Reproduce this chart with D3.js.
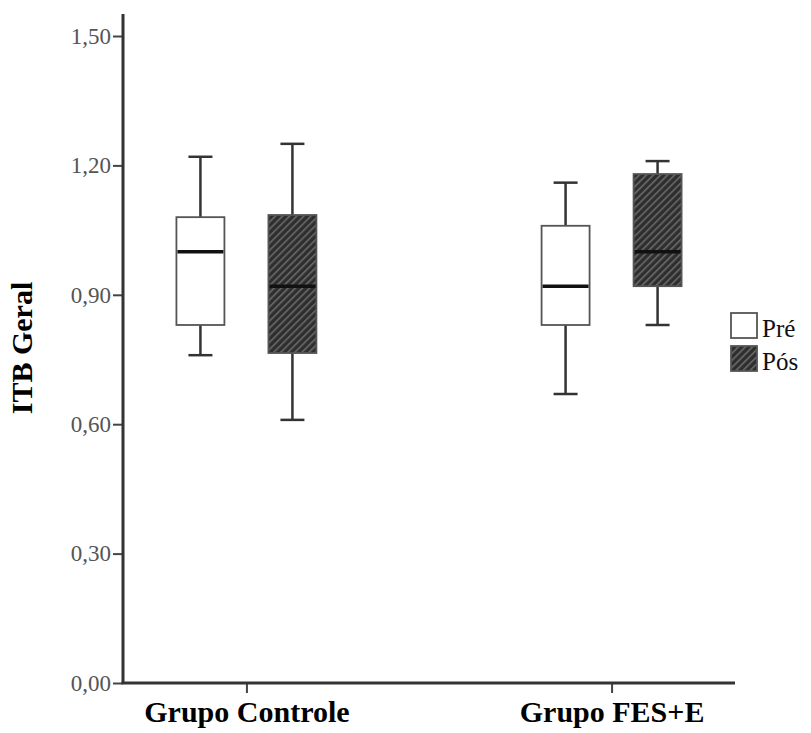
<!DOCTYPE html>
<html>
<head>
<meta charset="utf-8">
<script src="https://cdn.jsdelivr.net/npm/d3@7"></script>
<style>
  body { margin: 0; background: #fff; }
  svg { display: block; }
</style>
</head>
<body>
<div id="chart"></div>
<script>
// Données (ITB Geral)
const groups = ['Grupo Controle', 'Grupo FES+E'];
const phases = ['Pré', 'Pós'];
// min, q1, mediana, q3, max
const controlePre = [0.76, 0.83, 1.00, 1.08, 1.22];
const controlePos = [0.61, 0.765, 0.92, 1.085, 1.25];
const fesPre = [0.67, 0.83, 0.92, 1.06, 1.16];
const fesPos = [0.83, 0.92, 1.00, 1.18, 1.21];
const yTicks = [0, 0.3, 0.6, 0.9, 1.2, 1.5];

const boxes = [
    { group: groups[0], phase: phases[0], v: controlePre },
    { group: groups[0], phase: phases[1], v: controlePos },
    { group: groups[1], phase: phases[0], v: fesPre },
    { group: groups[1], phase: phases[1], v: fesPos }
];

const width = 811;
const height = 733;
const margin = { top: 36, right: 76, bottom: 50, left: 123 };

const svg = d3.select('#chart')
    .append('svg')
    .attr('width', width)
    .attr('height', height);

// Motif hachuré pour "Pós"
const defs = svg.append('defs');
const pat = defs.append('pattern')
    .attr('id', 'hatch')
    .attr('patternUnits', 'userSpaceOnUse')
    .attr('width', 5)
    .attr('height', 5)
    .attr('patternTransform', 'rotate(45)');
pat.append('rect').attr('width', 5).attr('height', 5).attr('fill', '#2e2e2e');
pat.append('rect').attr('x', 0).attr('width', 1.6).attr('height', 5).attr('fill', '#6a6a6a');

// Échelles
const y = d3.scaleLinear()
    .domain([0, 1.5])
    .range([683, 36]);

const x = d3.scalePoint()
    .domain(groups)
    .range([margin.left, 735])
    .padding(0.338);

const phaseOffset = d3.scalePoint()
    .domain(phases)
    .range([-46, 46]);

const boxW = 48;
const capW = 24;

// Axe Y
const yAxis = d3.axisLeft(y)
    .tickValues(yTicks)
    .tickSize(10)
    .tickSizeOuter(0)
    .tickFormat(d => d3.format('.2f')(d).replace('.', ','));

const gy = svg.append('g')
    .attr('transform', `translate(${margin.left},0)`)
    .call(yAxis);
gy.select('.domain').remove();
gy.selectAll('.tick line').attr('stroke', '#444').attr('stroke-width', 2);
gy.selectAll('.tick text')
    .attr('x', -12)
    .style('font-family', '"Liberation Serif", "Times New Roman", serif')
    .style('font-size', '23px')
    .style('fill', '#555');

svg.append('line')
    .attr('x1', margin.left).attr('x2', margin.left)
    .attr('y1', y(0)).attr('y2', 14)
    .attr('stroke', '#333').attr('stroke-width', 3);

// Axe X
const xAxis = d3.axisBottom(x).tickSize(10).tickSizeOuter(0);
const gx = svg.append('g')
    .attr('transform', `translate(0,${y(0)})`)
    .call(xAxis);
gx.select('.domain').remove();
gx.selectAll('.tick line').attr('stroke', '#444').attr('stroke-width', 2);
gx.selectAll('.tick text')
    .attr('y', 39)
    .attr('dy', 0)
    .style('font-family', '"Liberation Serif", "Times New Roman", serif')
    .style('font-size', '30px')
    .style('font-weight', 'bold')
    .style('fill', '#000');

svg.append('line')
    .attr('x1', margin.left - 1.5).attr('x2', 735)
    .attr('y1', y(0)).attr('y2', y(0))
    .attr('stroke', '#333').attr('stroke-width', 3);

// Titre axe Y
svg.append('text')
    .attr('transform', `translate(32,${348}) rotate(-90)`)
    .attr('text-anchor', 'middle')
    .style('font-family', '"Liberation Serif", "Times New Roman", serif')
    .style('font-size', '30px')
    .style('font-weight', 'bold')
    .text('ITB Geral');

// Boîtes
const bx = svg.selectAll('.box')
    .data(boxes)
    .enter()
    .append('g')
    .attr('class', 'box')
    .attr('transform', d => `translate(${x(d.group) + phaseOffset(d.phase)},0)`);

// moustaches
bx.append('line')
    .attr('x1', 0).attr('x2', 0)
    .attr('y1', d => y(d.v[4])).attr('y2', d => y(d.v[3]))
    .attr('stroke', '#333').attr('stroke-width', 2.5);
bx.append('line')
    .attr('x1', 0).attr('x2', 0)
    .attr('y1', d => y(d.v[1])).attr('y2', d => y(d.v[0]))
    .attr('stroke', '#333').attr('stroke-width', 2.5);
bx.append('line')
    .attr('x1', -capW / 2).attr('x2', capW / 2)
    .attr('y1', d => y(d.v[4])).attr('y2', d => y(d.v[4]))
    .attr('stroke', '#333').attr('stroke-width', 2.5);
bx.append('line')
    .attr('x1', -capW / 2).attr('x2', capW / 2)
    .attr('y1', d => y(d.v[0])).attr('y2', d => y(d.v[0]))
    .attr('stroke', '#333').attr('stroke-width', 2.5);

bx.append('rect')
    .attr('x', -boxW / 2)
    .attr('width', boxW)
    .attr('y', d => y(d.v[3]))
    .attr('height', d => y(d.v[1]) - y(d.v[3]))
    .attr('fill', d => d.phase === 'Pré' ? '#fff' : 'url(#hatch)')
    .attr('stroke', '#555')
    .attr('stroke-width', 1.8);

bx.append('line')
    .attr('x1', -boxW / 2 + 1).attr('x2', boxW / 2 - 1)
    .attr('y1', d => y(d.v[2])).attr('y2', d => y(d.v[2]))
    .attr('stroke', '#111').attr('stroke-width', 3.5);

// Légende
const legend = svg.append('g')
    .attr('transform', 'translate(731,313)');

const li = legend.selectAll('.leg')
    .data(phases)
    .enter()
    .append('g')
    .attr('class', 'leg')
    .attr('transform', (d, i) => `translate(0,${i * 33})`);

li.append('rect')
    .attr('width', 26)
    .attr('height', 25)
    .attr('fill', d => d === 'Pré' ? '#fff' : 'url(#hatch)')
    .attr('stroke', '#555')
    .attr('stroke-width', 1.8);

li.append('text')
    .attr('x', 31)
    .attr('y', 24)
    .style('font-family', '"Liberation Serif", "Times New Roman", serif')
    .style('font-size', '25px')
    .style('fill', '#111')
    .text(d => d);
</script>
</body>
</html>
